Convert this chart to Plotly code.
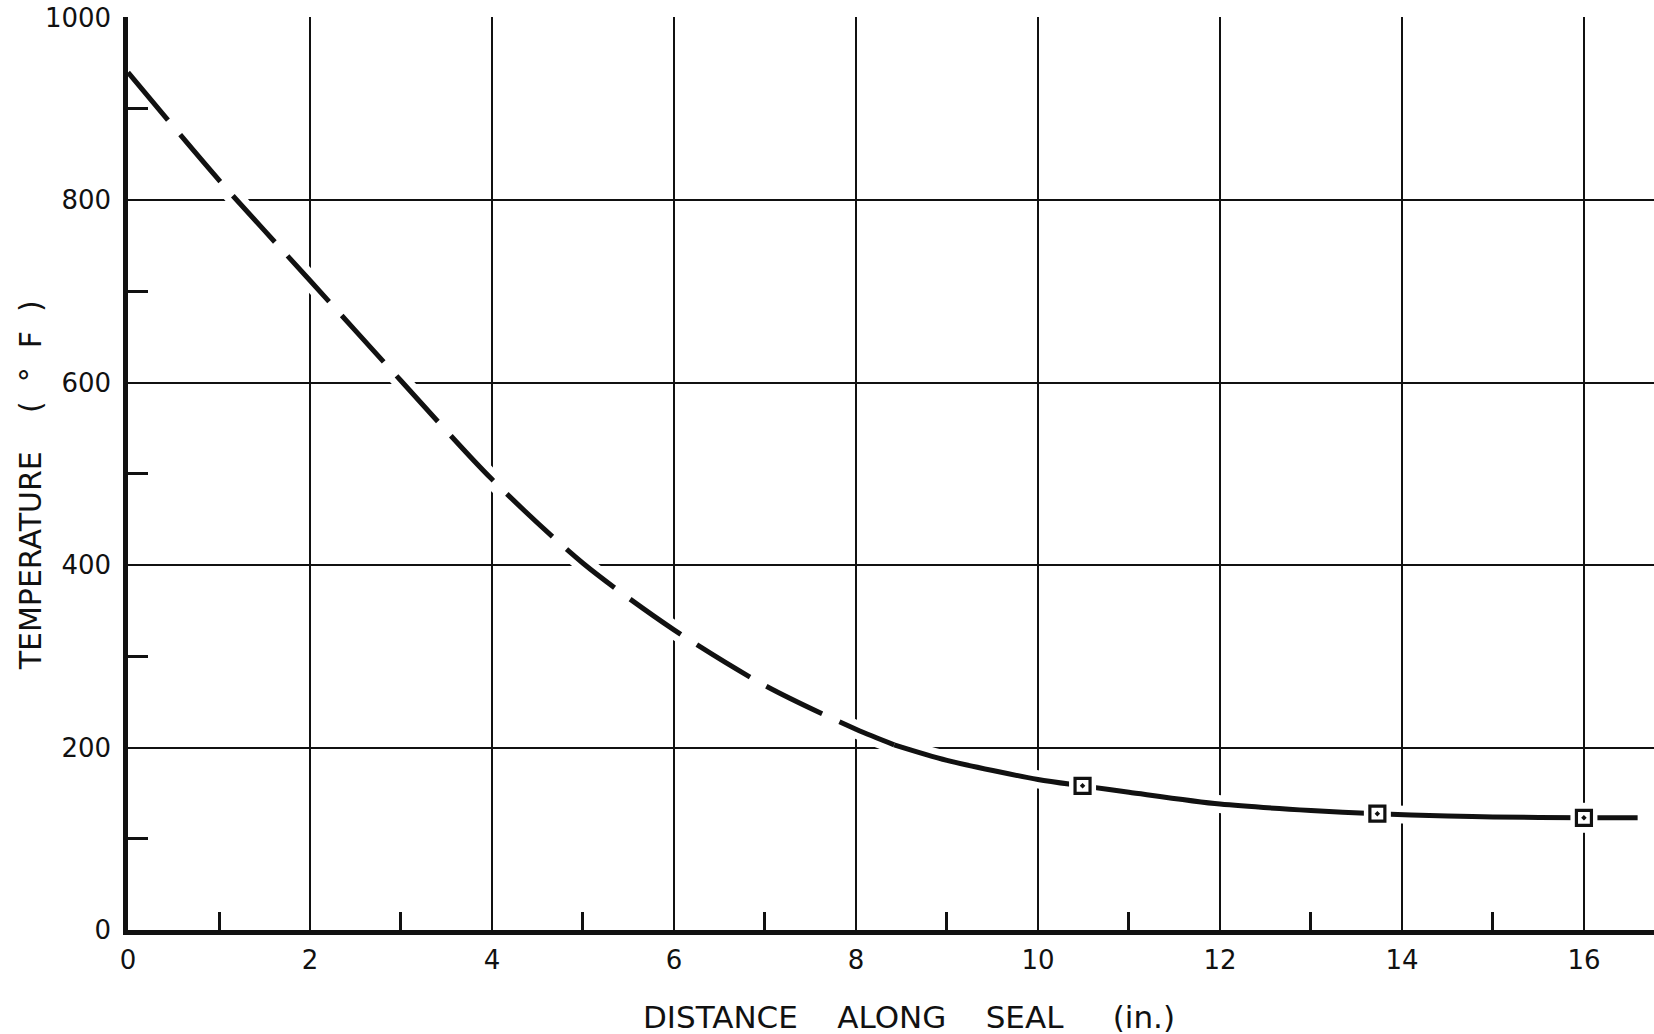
import plotly.graph_objects as go

# ---- data ----
dashed_x = [0, 1, 2, 3, 4, 5, 6, 7, 8, 8.42]
dashed_t = [940, 822, 712, 602, 494, 402, 329, 268, 220, 203]
solid_x = [8.42, 9, 10, 10.49, 11, 12, 13, 13.73, 14.5, 15, 16, 16.59]
solid_t = [203, 186, 165, 158, 151, 138, 131, 127.5, 125, 124, 123, 123]
point_x = [10.49, 13.73, 16.0]
point_t = [158, 127.5, 123]

x_ticks = [0, 2, 4, 6, 8, 10, 12, 14, 16]
x_ticklabels = ["0", "2", "4", "6", "8", "10", "12", "14", "16"]
y_ticks = [0, 200, 400, 600, 800, 1000]
y_ticklabels = ["0", "200", "400", "600", "800", "1000"]

x_title = "DISTANCE\u00a0\u00a0\u00a0\u00a0ALONG\u00a0\u00a0\u00a0\u00a0SEAL\u00a0\u00a0\u00a0\u00a0\u00a0(in.)"
y_title = "TEMPERATURE\u00a0\u00a0\u00a0\u00a0(\u00a0\u00a0°\u00a0\u00a0F\u00a0\u00a0)"

FONT = "DejaVu Sans"
INK = "#111111"

fig = go.Figure()

all_x = dashed_x + solid_x[1:]
all_t = dashed_t + solid_t[1:]

# white halo under the curve (breaks the grid like the original drawing)
fig.add_trace(go.Scatter(x=all_x, y=all_t, mode="lines",
                         line=dict(color="white", width=18, shape="spline",
                                   smoothing=0.8),
                         hoverinfo="skip", showlegend=False))
fig.add_trace(go.Scatter(x=point_x, y=point_t, mode="markers",
                         marker=dict(symbol="square", size=30, color="white",
                                     line=dict(width=0)),
                         hoverinfo="skip", showlegend=False))
# dashed part
fig.add_trace(go.Scatter(x=dashed_x, y=dashed_t, mode="lines",
                         line=dict(color=INK, width=5, shape="spline",
                                   smoothing=0.8, dash="62px,19px"),
                         showlegend=False))
# solid part
fig.add_trace(go.Scatter(x=solid_x, y=solid_t, mode="lines",
                         line=dict(color=INK, width=5, shape="spline",
                                   smoothing=0.8),
                         showlegend=False))
# white gap around the measured points
fig.add_trace(go.Scatter(x=point_x, y=point_t, mode="markers",
                         marker=dict(symbol="square", size=27, color="white",
                                     line=dict(width=0)),
                         hoverinfo="skip", showlegend=False))
fig.add_trace(go.Scatter(x=point_x, y=point_t, mode="markers",
                         marker=dict(symbol="square-open-dot", size=15,
                                     color=INK, line=dict(width=3.2, color=INK)),
                         showlegend=False))

fig.update_layout(
    width=1654, height=1034,
    margin=dict(l=128, r=0, t=17, b=104),
    paper_bgcolor="white", plot_bgcolor="white",
    font=dict(family=FONT, size=26, color=INK),
    showlegend=False,
)

fig.update_xaxes(
    range=[0, 16.77],
    tickmode="array", tickvals=x_ticks, ticktext=x_ticklabels,
    ticks="", ticklabelstandoff=3,
    tickfont=dict(family=FONT, size=26, color=INK),
    showgrid=True, gridcolor=INK, gridwidth=2.2,
    showline=True, linecolor=INK, linewidth=4.5,
    zeroline=False,
    minor=dict(ticks="inside", tickmode="array",
               tickvals=[1, 3, 5, 7, 9, 11, 13, 15],
               ticklen=18, tickwidth=2.5, tickcolor=INK, showgrid=False),
)
fig.update_yaxes(
    range=[0, 1000.8],
    tickmode="array", tickvals=y_ticks, ticktext=y_ticklabels,
    ticks="", ticklabelstandoff=7,
    tickfont=dict(family=FONT, size=26, color=INK),
    showgrid=True, gridcolor=INK, gridwidth=2.2,
    showline=True, linecolor=INK, linewidth=4.5,
    zeroline=False,
    minor=dict(ticks="inside", tickmode="array",
               tickvals=[100, 300, 500, 700, 900],
               ticklen=20, tickwidth=2.5, tickcolor=INK, showgrid=False),
)

fig.add_annotation(text=x_title, xref="paper", yref="paper",
                   x=0.512, y=0, yshift=-87, xanchor="center", yanchor="middle",
                   showarrow=False, font=dict(family=FONT, size=31, color=INK))
fig.add_annotation(text=y_title, xref="paper", yref="paper",
                   x=0, xshift=-98, y=0.487, xanchor="center", yanchor="middle",
                   textangle=-90, showarrow=False,
                   font=dict(family=FONT, size=30, color=INK))

fig.write_html("out.html")
